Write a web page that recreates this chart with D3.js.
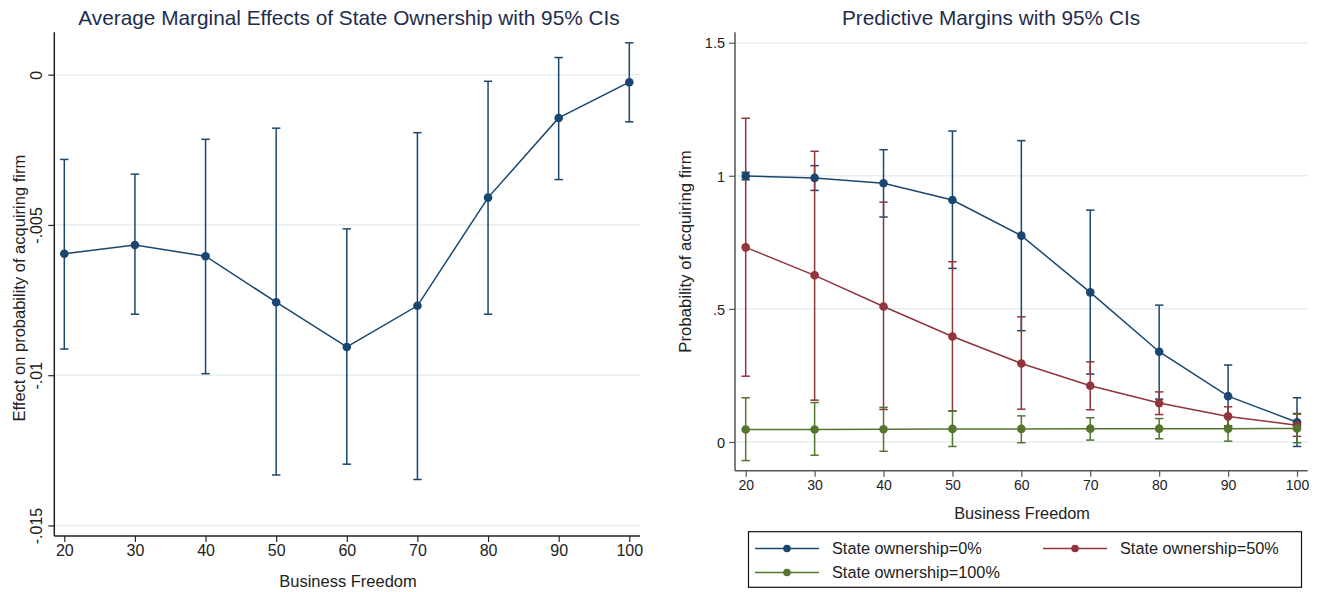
<!DOCTYPE html>
<html>
<head>
<meta charset="utf-8">
<script src="https://cdn.jsdelivr.net/npm/d3@7"></script>
<style>
  body { margin: 0; background: #fff; }
  svg { font-family: "Liberation Sans", Arial, sans-serif; }
</style>
</head>
<body>
<div id="chart"></div>
<script>
// business freedom levels (x axis, both panels)
var freedom = [20, 30, 40, 50, 60, 70, 80, 90, 100];

// left panel: average marginal effect of state ownership
var ameEst = [-0.00596, -0.00567, -0.00604, -0.00757, -0.00906, -0.00769, -0.00409, -0.00144, -0.00025];
var ameLo  = [-0.00913, -0.00797, -0.00995, -0.01332, -0.01296, -0.01347, -0.00797, -0.00349, -0.00157];
var ameHi  = [-0.00282, -0.00331, -0.00215, -0.00178, -0.00513, -0.00193, -0.00022, 0.00057, 0.00106];
var ameTicks = [0, -0.005, -0.01, -0.015];
var ameTickLabels = ["0", "-.005", "-.01", "-.015"];

// right panel: predictive margins at state ownership 0 / 50 / 100%
var own0Est = [0.999, 0.992, 0.972, 0.909, 0.775, 0.562, 0.339, 0.172, 0.074];
var own0Lo  = [0.985, 0.945, 0.845, 0.652, 0.418, 0.255, 0.161, 0.056, -0.017];
var own0Hi  = [1.013, 1.038, 1.098, 1.168, 1.132, 0.871, 0.514, 0.289, 0.166];

var own50Est = [0.731, 0.626, 0.509, 0.396, 0.295, 0.211, 0.146, 0.096, 0.063];
var own50Lo  = [0.247, 0.157, 0.122, 0.116, 0.123, 0.121, 0.103, 0.061, 0.021];
var own50Hi  = [1.216, 1.092, 0.901, 0.677, 0.470, 0.301, 0.188, 0.132, 0.107];

var own100Est = [0.047, 0.047, 0.048, 0.049, 0.049, 0.050, 0.050, 0.050, 0.051];
var own100Lo  = [-0.070, -0.050, -0.035, -0.017, -0.003, 0.007, 0.012, 0.003, -0.003];
var own100Hi  = [0.166, 0.148, 0.130, 0.116, 0.098, 0.091, 0.088, 0.094, 0.104];

var pmTicks = [0, 0.5, 1, 1.5];
var pmTickLabels = ["0", ".5", "1", "1.5"];

var seriesNames = ["State ownership=0%", "State ownership=50%", "State ownership=100%"];
var seriesColors = ["#1a476f", "#90353b", "#55752f"];

var gridColor = "#e6eef0";
var titleColor = "#1e2c4e";

var svg = d3.select("#chart").append("svg").attr("width", 1318).attr("height", 592);

function rows(est, lo, hi) {
    return freedom.map(function (f, i) { return { x: f, y: est[i], lo: lo[i], hi: hi[i] }; });
}

function drawCI(g, x, y, data, color) {
    var ci = g.append("g");
    ci.selectAll("line.bar").data(data).enter().append("line")
        .attr("x1", function (d) { return x(d.x); })
        .attr("x2", function (d) { return x(d.x); })
        .attr("y1", function (d) { return y(d.lo); })
        .attr("y2", function (d) { return y(d.hi); })
        .attr("stroke", color).attr("stroke-width", 1.5);
    ["lo", "hi"].forEach(function (k) {
        ci.selectAll("line.cap" + k).data(data).enter().append("line")
            .attr("x1", function (d) { return x(d.x) - 4.2; })
            .attr("x2", function (d) { return x(d.x) + 4.2; })
            .attr("y1", function (d) { return y(d[k]); })
            .attr("y2", function (d) { return y(d[k]); })
            .attr("stroke", color).attr("stroke-width", 1.5);
    });
}

function drawLine(g, x, y, data, color) {
    var line = d3.line().x(function (d) { return x(d.x); }).y(function (d) { return y(d.y); });
    g.append("path").datum(data)
        .attr("fill", "none").attr("stroke", color).attr("stroke-width", 1.5)
        .attr("d", line);
    g.selectAll(null).data(data).enter().append("circle")
        .attr("cx", function (d) { return x(d.x); })
        .attr("cy", function (d) { return y(d.y); })
        .attr("r", 4.3).attr("fill", color);
}

function drawFrame(x, y, ticks, labels, left, right, top, bottom, axisColor) {
    var g = svg.append("g");
    g.selectAll("line.grid").data(ticks).enter().append("line")
        .attr("x1", left).attr("x2", right)
        .attr("y1", function (d) { return y(d); })
        .attr("y2", function (d) { return y(d); })
        .attr("stroke", gridColor).attr("stroke-width", 1.5);

    var yAxis = d3.axisLeft(y).tickValues(ticks).tickSize(6)
        .tickFormat(function (d, i) { return labels[i]; });
    var ya = g.append("g").attr("transform", "translate(" + left + ",0)").call(yAxis);
    ya.select(".domain").attr("d", "M0," + top + "V" + bottom).attr("stroke", axisColor).attr("stroke-width", 1.5);
    ya.selectAll(".tick line").attr("stroke", axisColor).attr("stroke-width", 1.2);

    var xAxis = d3.axisBottom(x).tickValues(freedom).tickSize(6).tickFormat(d3.format("d"));
    var xa = g.append("g").attr("transform", "translate(0," + bottom + ")").call(xAxis);
    xa.select(".domain").attr("d", "M" + left + ",0H" + right).attr("stroke", axisColor).attr("stroke-width", 1.5);
    xa.selectAll(".tick line").attr("stroke", axisColor).attr("stroke-width", 1.2);
    return { g: g, ya: ya, xa: xa };
}

// ---------- left panel ----------
var L = { left: 54.3, right: 640, top: 32.3, bottom: 536 };
var xL = d3.scaleLinear().domain([20, 100]).range([64.3, 629.3]);
var yL = d3.scaleLinear().domain([-0.01535, 0.00141]).range([L.bottom, L.top]);

var fL = drawFrame(xL, yL, ameTicks, ameTickLabels, L.left, L.right, L.top, L.bottom, "#222");
fL.ya.selectAll(".tick text")
    .attr("x", null).attr("dy", null)
    .attr("transform", "translate(-12,0) rotate(-90)")
    .attr("text-anchor", "middle")
    .attr("font-size", 16).attr("fill", "#222").attr("font-family", null);
fL.xa.selectAll(".tick text").attr("y", 9).attr("dy", "0.71em")
    .attr("font-size", 16).attr("fill", "#222").attr("font-family", null);

var gL = svg.append("g");
var ameData = rows(ameEst, ameLo, ameHi);
drawCI(gL, xL, yL, ameData, seriesColors[0]);
drawLine(gL, xL, yL, ameData, seriesColors[0]);

svg.append("text").attr("x", 349).attr("y", 25).attr("text-anchor", "middle")
    .attr("font-size", 20.8).attr("fill", titleColor)
    .text("Average Marginal Effects of State Ownership with 95% CIs");
svg.append("text").attr("x", 348).attr("y", 587).attr("text-anchor", "middle")
    .attr("font-size", 16.5).attr("fill", "#222").text("Business Freedom");
svg.append("text").attr("transform", "translate(25," + ((L.top + L.bottom) / 2 + 4) + ") rotate(-90)")
    .attr("text-anchor", "middle").attr("font-size", 16.5).attr("fill", "#222")
    .text("Effect on probability of acquiring firm");

// ---------- right panel ----------
var R = { left: 735, right: 1307.7, top: 32.3, bottom: 470.7 };
var xR = d3.scaleLinear().domain([20, 100]).range([745.7, 1297]);
var yR = d3.scaleLinear().domain([-0.108, 1.539]).range([R.bottom, R.top]);

var fR = drawFrame(xR, yR, pmTicks, pmTickLabels, R.left, R.right, R.top, R.bottom, "#555");
fR.ya.selectAll(".tick text").attr("x", -10).attr("dy", "0.36em")
    .attr("font-size", 14.5).attr("fill", "#222").attr("font-family", null);
fR.xa.selectAll(".tick text").attr("y", 9).attr("dy", "0.71em")
    .attr("font-size", 14).attr("fill", "#222").attr("font-family", null);

var gR = svg.append("g");
var pmData = [rows(own0Est, own0Lo, own0Hi), rows(own50Est, own50Lo, own50Hi), rows(own100Est, own100Lo, own100Hi)];
pmData.forEach(function (d, i) { drawCI(gR, xR, yR, d, seriesColors[i]); });
pmData.forEach(function (d, i) { drawLine(gR, xR, yR, d, seriesColors[i]); });

svg.append("text").attr("x", 991).attr("y", 25).attr("text-anchor", "middle")
    .attr("font-size", 20.8).attr("fill", titleColor)
    .text("Predictive Margins with 95% CIs");
svg.append("text").attr("x", 1022).attr("y", 518.5).attr("text-anchor", "middle")
    .attr("font-size", 16.3).attr("fill", "#222").text("Business Freedom");
svg.append("text").attr("transform", "translate(691," + ((R.top + R.bottom) / 2) + ") rotate(-90)")
    .attr("text-anchor", "middle").attr("font-size", 16.8).attr("fill", "#222")
    .text("Probability of acquiring firm");

// legend
var legend = svg.append("g");
legend.append("rect").attr("x", 748.5).attr("y", 531.7).attr("width", 553).attr("height", 55.6)
    .attr("fill", "#fff").attr("stroke", "#111").attr("stroke-width", 1.2);
var legendPos = [{ x: 755, y: 548.5 }, { x: 1043, y: 548.5 }, { x: 755, y: 572.5 }];
seriesNames.forEach(function (name, i) {
    var p = legendPos[i];
    legend.append("line").attr("x1", p.x).attr("x2", p.x + 64).attr("y1", p.y).attr("y2", p.y)
        .attr("stroke", seriesColors[i]).attr("stroke-width", 1.5);
    legend.append("circle").attr("cx", p.x + 32).attr("cy", p.y).attr("r", 3.8).attr("fill", seriesColors[i]);
    legend.append("text").attr("x", p.x + 77).attr("y", p.y + 5.5).attr("font-size", 16.3)
        .attr("fill", "#222").text(name);
});
</script>
</body>
</html>
